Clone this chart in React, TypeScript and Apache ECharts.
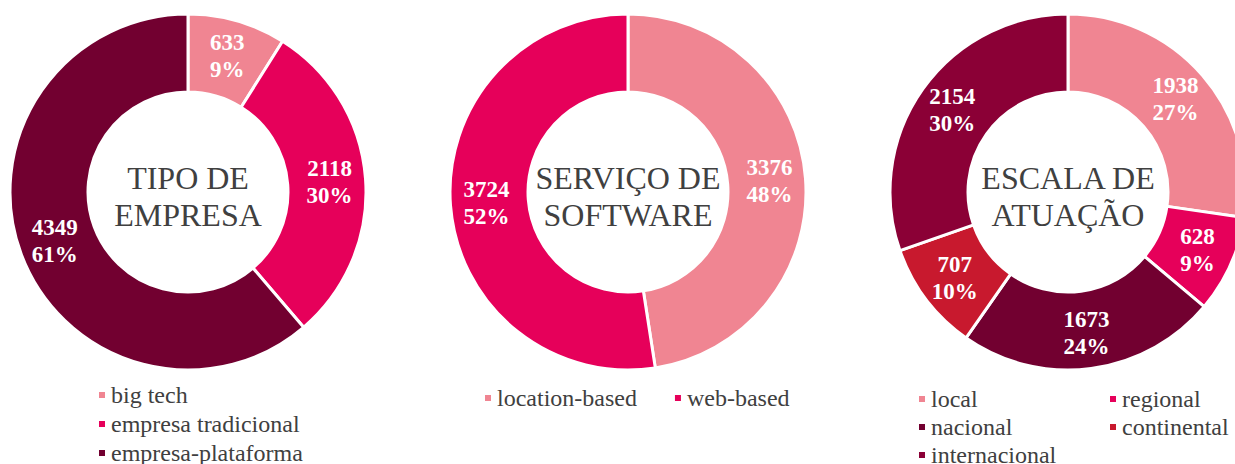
import React, { useEffect, useRef } from "react";
import * as echarts from "echarts";

const FONT = "Liberation Serif, Times New Roman, serif";

const tipoNames = ["big tech", "empresa tradicional", "empresa-plataforma"];
const tipoValues = [633, 2118, 4349];

const servicoNames = ["location-based", "web-based"];
const servicoValues = [3376, 3724];

const escalaNames = ["local", "regional", "nacional", "continental", "internacional"];
const escalaValues = [1938, 628, 1673, 707, 2154];

const tipoColors = ["#F08592", "#E6005A", "#720030"];
const servicoColors = ["#F08592", "#E6005A"];
const escalaColors = ["#F08592", "#E6005A", "#720030", "#C8192E", "#8B0036"];

const centerTitles = ["TIPO DE\nEMPRESA", "SERVIÇO DE\nSOFTWARE", "ESCALA DE\nATUAÇÃO"];

function buildData(names: string[], values: number[], colors: string[]) {
  return names.map((n, i) => ({ name: n, value: values[i], itemStyle: { color: colors[i] } }));
}

function pieSeries(center: [number, number], data: any[]) {
  return {
    type: "pie",
    center,
    radius: [100, 178],
    startAngle: 90,
    clockwise: true,
    avoidLabelOverlap: false,
    itemStyle: { borderColor: "#ffffff", borderWidth: 3 },
    label: {
      show: true,
      position: "inside",
      color: "#ffffff",
      fontFamily: FONT,
      fontWeight: "bold",
      fontSize: 23,
      lineHeight: 27,
      formatter: (p: any) => `${p.value}\n${Math.round(p.percent)}%`,
    },
    labelLine: { show: false },
    emphasis: { disabled: true },
    data,
  };
}

const legendText = { fontFamily: FONT, fontSize: 24, lineHeight: 24, color: "#404040" };

function legend(data: string[], orient: string, left: number, top: number, gap: number) {
  return {
    data,
    orient,
    left,
    top,
    width: 600,
    height: 200,
    padding: 0,
    itemWidth: 8,
    itemHeight: 8,
    itemGap: gap,
    icon: "rect",
    textStyle: legendText,
    selectedMode: false,
  };
}

export default function App() {
  const ref = useRef<HTMLDivElement>(null);
  useEffect(() => {
    document.body.style.margin = "0";
    if (!ref.current) return;
    const chart = echarts.init(ref.current, undefined, { renderer: "svg" });
    const centers: [number, number][] = [
      [188, 192],
      [628, 192],
      [1068, 192],
    ];
    chart.setOption({
      animation: false,
      backgroundColor: "#ffffff",
      legend: [
        legend(tipoNames, "vertical", 97, 383, 5),
        legend(servicoNames, "horizontal", 483, 386, 36),
        legend(["local", "nacional", "internacional"], "vertical", 917, 387, 4),
        legend(["regional", "continental"], "vertical", 1108, 387, 4),
      ],
      graphic: centerTitles.map((t, i) => ({
        type: "text",
        x: centers[i][0],
        y: 196,
        z: 100,
        style: {
          text: t,
          fill: "#404040",
          font: `32px ${FONT}`,
          lineHeight: 37,
          align: "center",
          verticalAlign: "middle",
        },
      })),
      series: [
        pieSeries(centers[0], buildData(tipoNames, tipoValues, tipoColors)),
        pieSeries(centers[1], buildData(servicoNames, servicoValues, servicoColors)),
        pieSeries(centers[2], buildData(escalaNames, escalaValues, escalaColors)),
      ],
    });
    return () => chart.dispose();
  }, []);
  return <div ref={ref} style={{ width: 1235, height: 464 }} />;
}
